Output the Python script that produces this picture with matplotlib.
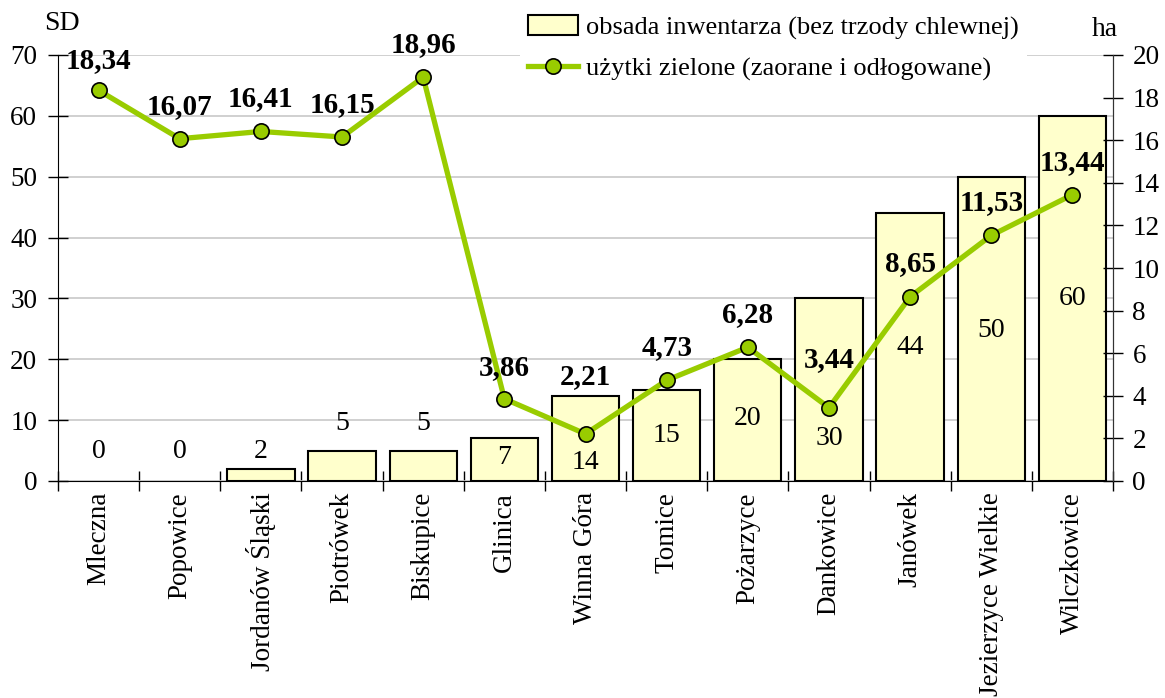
import matplotlib
matplotlib.use("Agg")
import matplotlib.pyplot as plt
from matplotlib.ticker import MultipleLocator, FixedLocator, NullFormatter
import numpy as np

plt.rcParams["font.family"] = ["Liberation Serif", "DejaVu Serif"]

# --- data -------------------------------------------------------------
villages = ["Mleczna", "Popowice", "Jordanów Śląski", "Piotrówek", "Biskupice",
            "Glinica", "Winna Góra", "Tomice", "Pożarzyce", "Dankowice",
            "Janówek", "Jezierzyce Wielkie", "Wilczkowice"]
livestock_sd = [0, 0, 2, 5, 5, 7, 14, 15, 20, 30, 44, 50, 60]
grassland_ha = [18.34, 16.07, 16.41, 16.15, 18.96, 3.86, 2.21, 4.73, 6.28,
                3.44, 8.65, 11.53, 13.44]

bar_name = "obsada inwentarza (bez trzody chlewnej)"
line_name = "użytki zielone (zaorane i odłogowane)"

# --- label placement (layout) -----------------------------------------
# vertical anchor of each bar's value label, in SD units
bar_label_pos = [4.8, 4.8, 4.8, 9.5, 9.5, 3.8, 3.0, 7.5, 10.2, 7.0, 22.0, 24.8, 30.0]
# distance of each line label above its point, in pixels
line_label_gap = [30, 32, 33, 32, 33, 31, 57, 33, 33, 48, 33, 33, 32]

BAR_FACE = "#FFFFCC"
LINE_COL = "#99CC00"

fig = plt.figure(figsize=(11.65, 6.98), dpi=100)
ax = fig.add_axes([58 / 1165, 1 - 481 / 698, (1113 - 58) / 1165, (481 - 55) / 698])
ax2 = ax.twinx()

x = np.arange(len(villages))

bars = ax.bar(x, livestock_sd, width=0.83, color=BAR_FACE, edgecolor="black",
              linewidth=1.5, zorder=2, label=bar_name)
# empty categories get no outline at the baseline
for patch, v in zip(bars.patches, livestock_sd):
    if v == 0:
        patch.set_visible(False)

ax.set_xlim(-0.5, len(villages) - 0.5)
ax.set_ylim(0, 70)
ax.yaxis.set_major_locator(MultipleLocator(10))
ax.grid(axis="y", color="#c8c8c8", linewidth=1.2, zorder=0)
ax.set_axisbelow(True)

ax2.set_ylim(0, 20)
ax2.yaxis.set_major_locator(MultipleLocator(2))

line, = ax2.plot(x, grassland_ha, color=LINE_COL, linewidth=3.8, marker="o",
                 markersize=11, markerfacecolor=LINE_COL, markeredgecolor="black",
                 markeredgewidth=1.2, zorder=5, label=line_name)

# spines
for a in (ax, ax2):
    a.spines["top"].set_visible(False)
    a.spines["left"].set_color("black")
    a.spines["right"].set_color("#333333")
    a.spines["bottom"].set_color("black")
ax2.spines["left"].set_visible(False)
ax2.spines["bottom"].set_visible(False)

# ticks
ax.tick_params(axis="y", direction="inout", length=14, width=1, labelsize=19.5, pad=8)
ax2.tick_params(axis="y", direction="inout", length=14, width=1, labelsize=19.5, pad=7)
ax.xaxis.set_major_locator(FixedLocator(x))
ax.xaxis.set_minor_locator(FixedLocator(np.arange(-0.5, len(villages), 1.0)))
ax.xaxis.set_minor_formatter(NullFormatter())
ax.tick_params(axis="x", which="major", length=0, pad=8)
ax.tick_params(axis="x", which="minor", direction="inout", length=14, width=1)
ax.set_xticklabels(villages, rotation=90, fontsize=19.5, va="top", ha="center")

# unit captions
fig.text(62 / 1165, 1 - 23 / 698, "SD", fontsize=20, ha="center", va="center")
fig.text(1105 / 1165, 1 - 29 / 698, "ha", fontsize=20, ha="center", va="center")

# bar value labels
for xi, v, ly in zip(x, livestock_sd, bar_label_pos):
    ax.text(xi, ly, f"{v}", fontsize=20, ha="center", va="center", zorder=4)

# line value labels
for xi, v, gap in zip(x, grassland_ha, line_label_gap):
    ax2.annotate(f"{v:.2f}".replace(".", ","), (xi, v), xytext=(0, gap * 0.72),
                 textcoords="offset points", ha="center", va="center",
                 fontsize=21, fontweight="bold", zorder=6)

# legend
leg = ax2.legend([bars.patches[-1], line], [bar_name, line_name], loc="upper left",
                 bbox_to_anchor=(520 / 1165, 1 - 7 / 698), bbox_transform=fig.transFigure,
                 frameon=True, fontsize=19, handlelength=1.9, handleheight=0.8,
                 handletextpad=0.3, labelspacing=0.62, borderpad=0.3, borderaxespad=0)
leg.get_frame().set_facecolor("white")
leg.get_frame().set_edgecolor("none")
leg.get_frame().set_alpha(1)
leg.set_zorder(10)

fig.savefig("out.png", dpi=100)
